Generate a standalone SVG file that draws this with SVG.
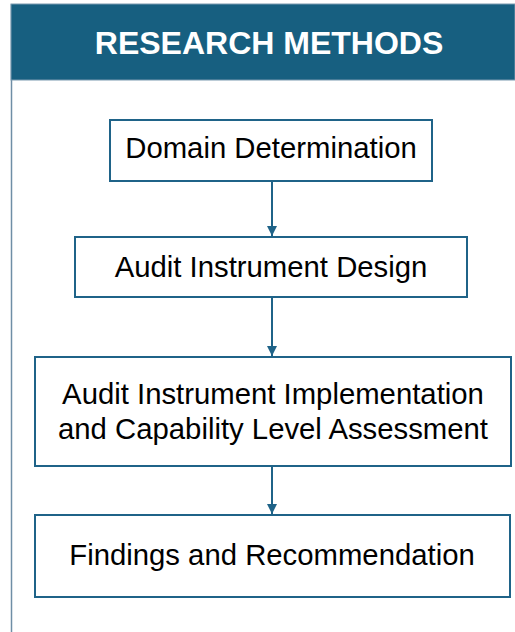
<svg xmlns="http://www.w3.org/2000/svg" width="515" height="632" viewBox="0 0 515 632">
<style>
.box{fill:#fff;stroke:#1f6388;stroke-width:2}
.lbl{font-family:"Liberation Sans",Arial,sans-serif;font-size:29.3px;fill:#000;text-anchor:middle}
.hdr{font-family:"Liberation Sans",Arial,sans-serif;font-size:32px;font-weight:bold;fill:#fff;text-anchor:middle}
.con{stroke:#1f6388;stroke-width:2;fill:none;marker-end:url(#arr)}
</style>
<defs>
<marker id="arr" viewBox="0 0 10 10" refX="10" refY="5" markerWidth="5" markerHeight="5" orient="auto" markerUnits="strokeWidth">
<path d="M0,0 L10,5 L0,10 z" fill="#1f6388"/>
</marker>
</defs>
<rect x="0" y="0" width="515" height="632" fill="#fff"/>
<g id="frame">
<line x1="11.5" y1="4" x2="11.5" y2="632" stroke="#6f8ea6" stroke-width="1.5"/>
<rect x="11" y="4" width="504" height="76" fill="#175f80" stroke="#7a9ab0" stroke-width="1"/>
<text class="hdr" x="269" y="54">RESEARCH METHODS</text>
</g>
<g id="connectors">
<line class="con" x1="272" y1="181" x2="272" y2="236"/>
<line class="con" x1="272" y1="297" x2="272" y2="356"/>
<line class="con" x1="272" y1="466" x2="272" y2="514"/>
</g>
<g id="n1">
<rect class="box" x="110" y="120" width="322" height="61"/>
<text class="lbl" x="271" y="158">Domain Determination</text>
</g>
<g id="n2">
<rect class="box" x="75" y="237" width="392" height="60"/>
<text class="lbl" x="271" y="277">Audit Instrument Design</text>
</g>
<g id="n3">
<rect class="box" x="35" y="357" width="476" height="109"/>
<text class="lbl" x="273" y="404">Audit Instrument Implementation</text>
<text class="lbl" x="273" y="439">and Capability Level Assessment</text>
</g>
<g id="n4">
<rect class="box" x="35" y="515" width="475" height="82"/>
<text class="lbl" x="272" y="565">Findings and Recommendation</text>
</g>
</svg>
